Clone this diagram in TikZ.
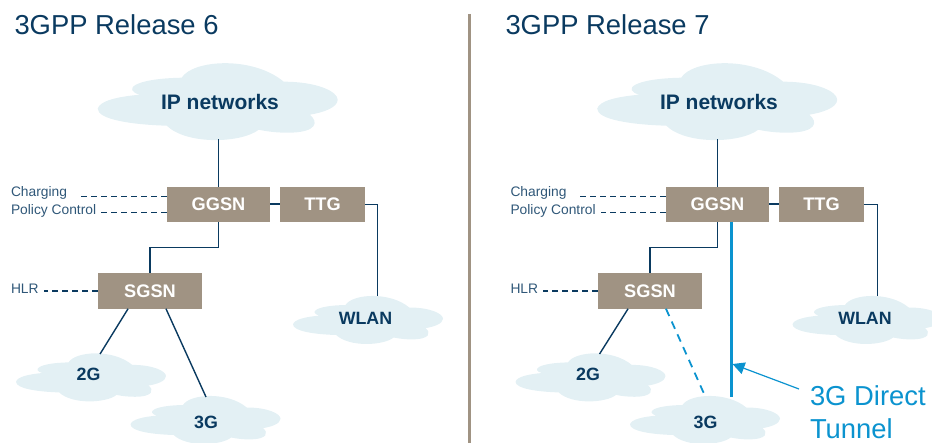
\documentclass[tikz,border=0pt]{standalone}
\usepackage{fontspec}
\setmainfont{Liberation Sans}
\usetikzlibrary{calc, arrows.meta}

\definecolor{navy}{HTML}{0A3A60}
\definecolor{boxtan}{HTML}{A09383}
\definecolor{cloudblue}{HTML}{E3F0F4}
\definecolor{tunnelblue}{HTML}{0B93CF}

\tikzset{
  netcloud/.pic={
    \fill[cloudblue] (-120,7) .. controls (-118,-1) and (-100,-5) .. (-78,-7)
      .. controls (-95,-12) and (-85,-23) .. (-36,-24)
      .. controls (-25,-42) and (35,-46) .. (66,-20)
      .. controls (100,-20) and (120,-10) .. (120,-2)
      .. controls (120,6) and (105,11) .. (92,13)
      .. controls (101,20) and (100,31) .. (70,31)
      .. controls (60,31) and (50,30) .. (41,28)
      .. controls (25,41) and (-30,44) .. (-51,24)
      .. controls (-85,23) and (-120,18) .. (-120,7) -- cycle;
  },
  titlelabel/.style={anchor=base west, inner sep=0, outer sep=0, text=navy, font=\fontsize{27.4}{33}\selectfont},
  sidelabel/.style={anchor=base west, inner sep=0, outer sep=0, text=navy!85, font=\fontsize{13.8}{16}\selectfont},
  cloudlabel/.style={inner sep=0, outer sep=0, text=navy, font=\fontsize{17.8}{20}\selectfont\bfseries, minimum width=150},
  gatebox/.style={fill=boxtan, inner sep=0, outer sep=0, minimum height=35.5, text=white, font=\fontsize{18.2}{20}\selectfont\bfseries},
  link/.style={draw=navy, line width=1.4pt},
  sidelink/.style={draw=navy, line width=1.2pt, dash pattern=on 6pt off 4pt},
}

\begin{document}
\begin{tikzpicture}[x=1pt, y=-1pt]
  \useasboundingbox (0,0) rectangle (932,443);
  \clip (0,0) rectangle (932,443);

  \node[titlelabel] (title6) at (14.5,35) {3GPP Release 6};
  \node[titlelabel] (title7) at (505.5,35) {3GPP Release 7};
  \coordinate (divtop) at (469.5,14); \coordinate (divbottom) at (469.5,443);
  \draw[boxtan, line width=3pt] (divtop) -- (divbottom);

  \pic at (217.7,101.7) {netcloud};
  \pic[scale=0.625] at (91,377.4) {netcloud};
  \pic[scale=0.625] at (205.5,420) {netcloud};
  \pic[scale=0.625] at (368,320) {netcloud};
  \node[cloudlabel, font=\fontsize{21}{24}\selectfont\bfseries, minimum height=76, minimum width=240] (ip6) at (220,101.5) {IP networks};
  \node[cloudlabel, minimum height=40] (twog6) at (88.5,374) {2G};
  \node[cloudlabel, minimum height=50] (threeg6) at (206,422) {3G};
  \node[cloudlabel, minimum height=44] (wlan6) at (365.5,318) {WLAN};
  \node[gatebox, minimum width=103.5] (ggsn6) at (218.5,204.5) {GGSN};
  \node[gatebox, minimum width=85] (ttg6) at (322.5,204.5) {TTG};
  \node[gatebox, minimum width=104] (sgsn6) at (150,291) {SGSN};
  \node[sidelabel] (charging6) at (11,197) {Charging};
  \node[sidelabel] (policy6) at (11,215) {Policy Control};
  \node[sidelabel] (hlr6) at (11,294) {HLR};
  \draw[link] (ggsn6.north |- ip6.south) -- (ggsn6.north);
  \draw[link, line width=2pt] (ggsn6.east) -- (ttg6.west);
  \draw[link] (ttg6.east) -| (wlan6.61.4);
  \draw[link] (ggsn6.south) -- ++(0,25) -| (sgsn6.north);
  \draw[link] (sgsn6.-141) -- (twog6.60);
  \draw[link] (sgsn6.-48) -- (threeg6.north);
  \draw[sidelink] (ggsn6.171.7) -- ([xshift=13]charging6.east |- ggsn6.171.7);
  \draw[sidelink] (ggsn6.189.4) -- ([xshift=5]policy6.east |- ggsn6.189.4);
  \draw[sidelink] (sgsn6.west) -- ([xshift=5]hlr6.east |- sgsn6.west);

  \pic at (717.2,101.7) {netcloud};
  \pic[scale=0.625] at (590.5,377.4) {netcloud};
  \pic[scale=0.625] at (705,420) {netcloud};
  \pic[scale=0.625] at (867.5,320) {netcloud};
  \node[cloudlabel, font=\fontsize{21}{24}\selectfont\bfseries, minimum height=76, minimum width=240] (ip7) at (719,101.5) {IP networks};
  \node[cloudlabel, minimum height=40] (twog7) at (588,374) {2G};
  \node[cloudlabel, minimum height=50] (threeg7) at (705.5,422) {3G};
  \node[cloudlabel, minimum height=44] (wlan7) at (865,318) {WLAN};
  \node[gatebox, minimum width=103.5] (ggsn7) at (717.5,204.5) {GGSN};
  \node[gatebox, minimum width=85] (ttg7) at (821.5,204.5) {TTG};
  \node[gatebox, minimum width=104] (sgsn7) at (650,291) {SGSN};
  \node[sidelabel] (charging7) at (510.5,197) {Charging};
  \node[sidelabel] (policy7) at (510.5,215) {Policy Control};
  \node[sidelabel] (hlr7) at (510.5,294) {HLR};
  \draw[link] (ggsn7.north |- ip7.south) -- (ggsn7.north);
  \draw[link, line width=2pt] (ggsn7.east) -- (ttg7.west);
  \draw[link] (ttg7.east) -| (wlan7.61.4);
  \draw[link] (ggsn7.south) -- ++(0,25) -| (sgsn7.north);
  \draw[link] (sgsn7.-141) -- (twog7.60);
  \draw[tunnelblue, line width=1.8pt, dash pattern=on 8pt off 6pt] (sgsn7.-48) -- (threeg7.north);
  \draw[sidelink] (ggsn7.171.7) -- ([xshift=13]charging7.east |- ggsn7.171.7);
  \draw[sidelink] (ggsn7.189.4) -- ([xshift=5]policy7.east |- ggsn7.189.4);
  \draw[sidelink] (sgsn7.west) -- ([xshift=5]hlr7.east |- sgsn7.west);

  \draw[tunnelblue, line width=3pt] (ggsn7.-51.3) -- (ggsn7.-51.3 |- threeg7.north);
  \node[anchor=north west, align=left, inner sep=0, outer sep=0, text=tunnelblue, font=\fontsize{27.4}{33}\selectfont] (tunnel7) at (810,386) {3G Direct\\Tunnel};
  \coordinate (tip7) at (732.5,364);
  \draw[tunnelblue, line width=1.2pt, -{Triangle[length=12pt, width=12pt]}] ($(tunnel7.north west)+(-11,3)$) -- (tip7);
\end{tikzpicture}
\end{document}
